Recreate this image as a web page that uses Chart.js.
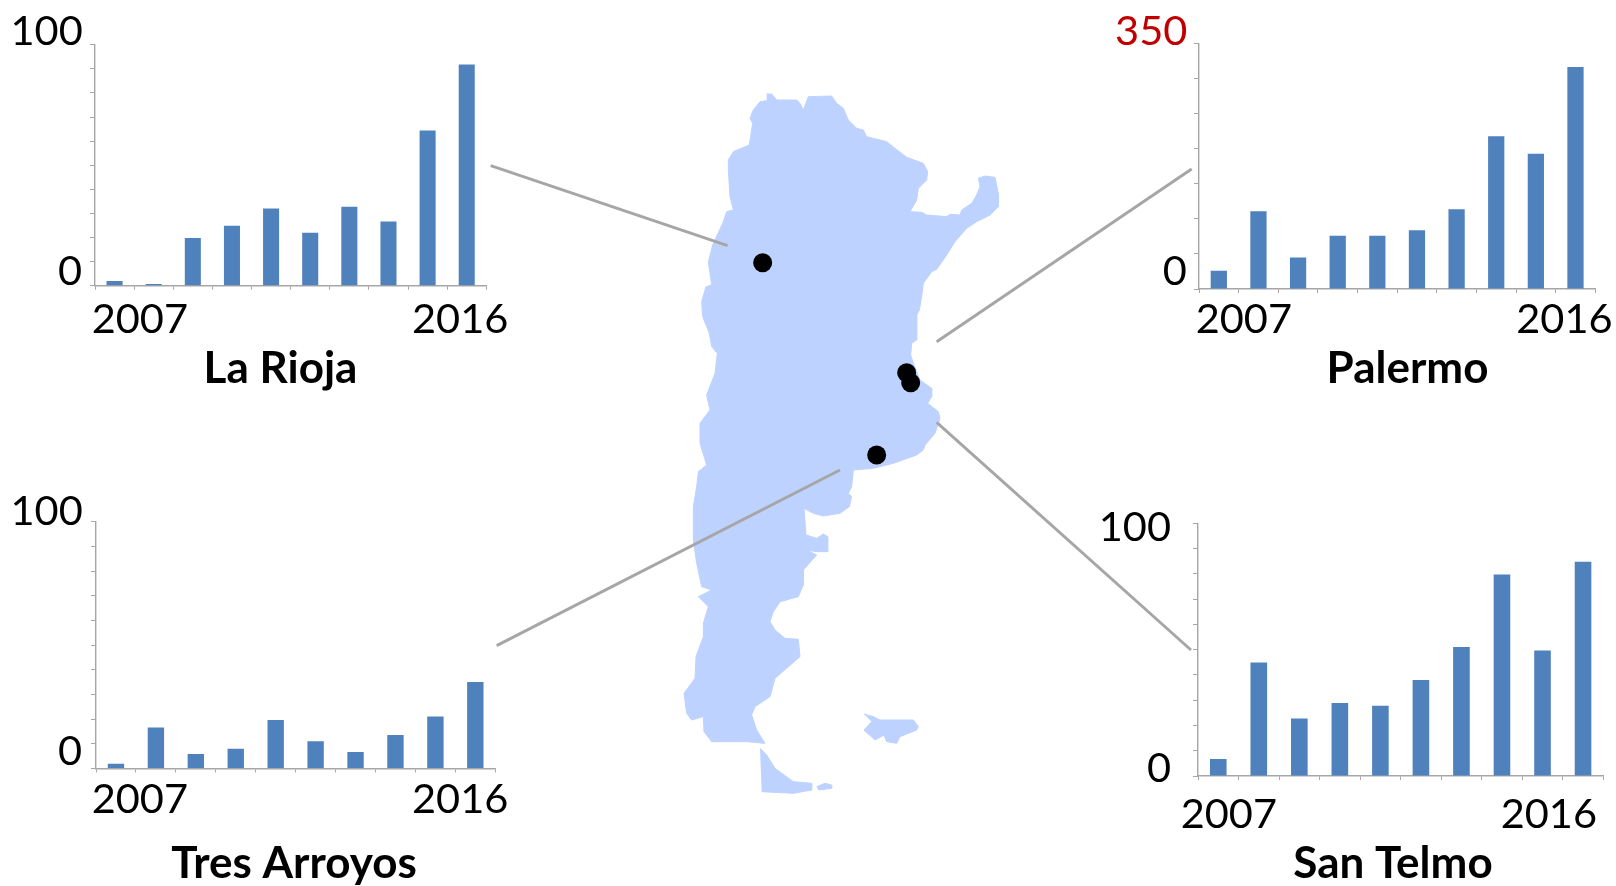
<!DOCTYPE html>
<html>
<head>
<meta charset="utf-8">
<title>Argentina sites</title>
<script src="https://cdn.jsdelivr.net/npm/chart.js@4/dist/chart.umd.min.js"></script>
<style>
  html, body { margin: 0; padding: 0; background: #fff; }
  body { position: relative; width: 1616px; height: 886px; overflow: hidden; }
  canvas { position: absolute; }
</style>
</head>
<body>
<canvas id="map"></canvas>
<canvas id="rioja"></canvas>
<canvas id="palermo"></canvas>
<canvas id="arroyos"></canvas>
<canvas id="telmo"></canvas>
<script>
var years = ['2007', '2008', '2009', '2010', '2011', '2012', '2013', '2014', '2015', '2016'];
var yearLabels = ['2007', '2016'];

var riojaValues = [1.9, 0.7, 19.8, 24.9, 32, 22, 32.8, 26.7, 64.4, 91.8];
var palermoValues = [26, 111, 45, 76, 76, 84, 114, 218, 193, 317];
var arroyosValues = [1.9, 16.6, 5.8, 8, 19.6, 11, 6.6, 13.5, 21, 35];
var telmoValues = [6.7, 44.9, 22.7, 28.9, 27.8, 38, 51, 79.7, 49.6, 84.8];

var ticks100 = ['0', '100'];
var ticks350 = ['0', '350'];

// outlines, in map units (3 units = 1 px, origin at 660,80)
var mainland = [
  [320,42],[335,42],[350,60],[410,60],[420,70],[430,90],[445,50],[515,48],[530,70],[550,85],
  [565,120],[590,145],[610,150],[620,170],[660,180],[680,185],[705,205],[740,232],[790,250],[803,275],
  [800,300],[775,325],[770,360],[750,395],[785,397],[800,405],[860,410],[870,403],[900,405],[905,390],
  [935,370],[950,345],[960,320],[955,295],[975,288],[1005,292],[1015,340],[1015,380],[990,405],[950,425],
  [920,445],[885,485],[860,525],[830,568],[815,575],[790,610],[785,650],[778,690],[770,705],[770,780],
  [755,790],[752,825],[760,850],[780,900],[815,925],[815,950],[803,970],[835,995],[840,1015],[825,1060],
  [795,1095],[790,1110],[770,1125],[700,1150],[640,1165],[580,1170],[575,1220],[565,1240],[575,1250],[568,1280],
  [540,1300],[490,1308],[460,1300],[432,1285],[438,1365],[470,1375],[490,1362],[503,1370],[503,1415],[470,1415],
  [440,1410],[470,1425],[430,1470],[430,1515],[415,1550],[360,1565],[340,1595],[330,1625],[345,1650],[375,1675],
  [415,1678],[420,1730],[345,1795],[330,1850],[285,1880],[275,1905],[290,1950],[315,1990],[260,1985],[155,1985],
  [132,1955],[130,1910],[95,1920],[80,1900],[72,1840],[105,1795],[108,1730],[130,1670],[130,1630],[145,1580],
  [115,1550],[155,1530],[125,1520],[110,1450],[100,1380],[100,1280],[110,1220],[115,1175],[140,1155],[120,1090],
  [120,1030],[150,990],[140,945],[165,880],[172,820],[155,800],[148,760],[128,710],[125,665],[138,620],
  [155,615],[145,545],[158,495],[190,425],[200,395],[220,390],[210,350],[205,270],[205,240],[220,215],
  [268,195],[278,130],[270,115],[280,90],[300,65],[320,62]
];
var fuego = [[300,2005],[320,2025],[345,2065],[400,2105],[455,2110],[455,2130],[400,2140],[305,2135]];
var islet = [[470,2120],[495,2110],[515,2115],[515,2125],[475,2130]];
var malvinas = [
  [612,1902],[640,1910],[660,1920],[760,1920],[775,1940],[770,1950],[720,1970],[710,1990],[680,1985],
  [672,1965],[645,1980],[612,1950],[635,1925]
];
var sites = [[308,548],[740,878],[752,908],[650,1125]];
var leaders = [
  [[-508,257],[203,497]],
  [[1595,267],[830,785]],
  [[1593,1710],[830,1027]],
  [[-490,1697],[540,1170]]
];

var barColor = '#4f81bd';
var axisColor = '#a6a6a6';
var landColor = '#bdd2ff';
var numberFont = '41.5px Lato';
var titleFont = 'bold 44px Lato';

// box: canvas on the page, plot: plot area on the page, both left/top/right/bottom
var panels = [
  {id: 'rioja', title: 'La Rioja', values: riojaValues, max: 100, step: 10, yLabels: ticks100, topColor: '#000',
    box: [0, 0, 520, 400], plot: [95, 44.8, 486.3, 285.7],
    yAt: [[82, 285], [82.7, 45]], xAt: [[91.7, 333], [412, 333]], titleAt: [280.5, 382.7]},
  {id: 'palermo', title: 'Palermo', values: palermoValues, max: 350, step: 50, yLabels: ticks350, topColor: '#c00000',
    box: [1100, 0, 1616, 400], plot: [1199, 43.8, 1595.3, 289],
    yAt: [[1186.7, 285], [1187.3, 45]], xAt: [[1195.7, 332.7], [1516.3, 332.7]], titleAt: [1407.5, 382.7]},
  {id: 'arroyos', title: 'Tres Arroyos', values: arroyosValues, max: 100, step: 10, yLabels: ticks100, topColor: '#000',
    box: [0, 480, 520, 886], plot: [96, 521.8, 495.3, 768.4],
    yAt: [[82, 765], [82.7, 525]], xAt: [[91.7, 813.3], [412, 813.3]], titleAt: [294, 878.2]},
  {id: 'telmo', title: 'San Telmo', values: telmoValues, max: 100, step: 10, yLabels: ticks100, topColor: '#000',
    box: [1100, 480, 1616, 886], plot: [1198, 523.2, 1603.3, 776],
    yAt: [[1171, 781.7], [1171, 541]], xAt: [[1180.7, 828.3], [1500.7, 828.3]], titleAt: [1393, 877.7]}
];

// the labels sit off their ticks in the original, so they are placed by hand
var panelText = {
  id: 'panelText',
  afterDraw: function(chart, args, opts) {
    var p = opts.panel
    var ctx = chart.ctx
    var put = function(text, at, font, color, align) {
      ctx.font = font
      ctx.fillStyle = color
      ctx.textAlign = align
      ctx.textBaseline = 'alphabetic'
      ctx.fillText(text, at[0] - p.box[0], at[1] - p.box[1])
    }
    ctx.save()
    put(p.yLabels[0], p.yAt[0], numberFont, '#000', 'right')
    put(p.yLabels[1], p.yAt[1], numberFont, p.topColor, 'right')
    put(yearLabels[0], p.xAt[0], numberFont, '#000', 'left')
    put(yearLabels[1], p.xAt[1], numberFont, '#000', 'left')
    put(p.title, p.titleAt, titleFont, '#000', 'center')
    ctx.restore()
  }
}

function place(id, box) {
  var el = document.getElementById(id)
  el.width = box[2] - box[0]
  el.height = box[3] - box[1]
  el.style.left = box[0] + 'px'
  el.style.top = box[1] + 'px'
  return el
}

function drawPanel(p) {
  new Chart(place(p.id, p.box), {
    type: 'bar',
    data: {
      labels: years,
      datasets: [{
        label: p.title,
        data: p.values,
        backgroundColor: barColor,
        borderWidth: 0,
        barPercentage: 0.41,
        categoryPercentage: 1
      }]
    },
    plugins: [panelText],
    options: {
      responsive: false,
      animation: false,
      layout: {
        padding: {left: 0, bottom: 0, top: p.plot[1] - p.box[1], right: p.box[2] - p.plot[2]}
      },
      plugins: {
        legend: {display: false},
        tooltip: {enabled: false},
        panelText: {panel: p}
      },
      scales: {
        x: {
          offset: true,
          afterFit: function(s) { s.height = p.box[3] - p.plot[3] },
          border: {color: axisColor, width: 1.4},
          grid: {offset: true, drawOnChartArea: false, tickLength: 4, tickColor: axisColor, tickWidth: 1},
          ticks: {display: false, autoSkip: false}
        },
        y: {
          min: 0,
          max: p.max,
          afterFit: function(s) { s.width = p.plot[0] - p.box[0] },
          border: {color: axisColor, width: 1.4},
          grid: {drawOnChartArea: false, tickLength: 5, tickColor: axisColor, tickWidth: 1},
          ticks: {display: false, stepSize: p.step}
        }
      }
    }
  })
}

function toPoints(list) {
  return list.map(function(pt) { return {x: pt[0], y: pt[1]} })
}

function landSet(outline) {
  return {
    data: toPoints(outline),
    showLine: true,
    fill: 'shape',
    backgroundColor: landColor,
    borderColor: landColor,
    borderWidth: 1,
    pointRadius: 0,
    tension: 0
  }
}

function drawMap() {
  var sets = [{
    data: toPoints(sites),
    showLine: false,
    pointRadius: 9.5,
    pointBackgroundColor: '#000',
    pointBorderWidth: 0
  }]
  leaders.forEach(function(line) {
    sets.push({
      data: toPoints(line),
      showLine: true,
      borderColor: axisColor,
      borderWidth: 3,
      pointRadius: 0
    })
  })
  sets.push(landSet(mainland), landSet(fuego), landSet(islet), landSet(malvinas))

  new Chart(place('map', [0, 0, 1616, 886]), {
    type: 'scatter',
    data: {datasets: sets},
    options: {
      responsive: false,
      animation: false,
      layout: {padding: 0, autoPadding: false},
      plugins: {legend: {display: false}, tooltip: {enabled: false}},
      scales: {
        x: {type: 'linear', display: false, min: -1980, max: 2868},
        y: {type: 'linear', display: false, min: -240, max: 2418, reverse: true}
      }
    }
  })
}

drawMap()
panels.forEach(drawPanel)
</script>
</body>
</html>
